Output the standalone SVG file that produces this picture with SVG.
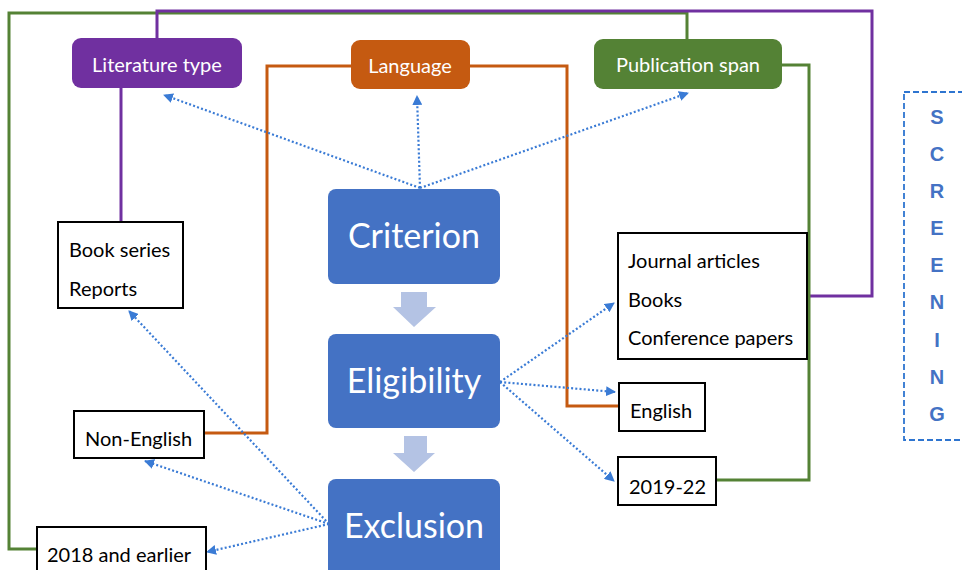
<svg xmlns="http://www.w3.org/2000/svg" width="962" height="570" viewBox="0 0 962 570">
  <defs>
    <marker id="tip" viewBox="0 0 10 10" refX="9" refY="5" markerWidth="10" markerHeight="10" markerUnits="userSpaceOnUse" orient="auto">
      <path d="M0,0 L10,5 L0,10 z" fill="#3A7BD5"/>
    </marker>
    <style>
      text { font-family: Lato, "Open Sans", "Liberation Sans", sans-serif; }
      .head { fill: #ffffff; font-size: 20px; text-anchor: middle; }
      .stage { fill: #ffffff; font-size: 34px; text-anchor: middle; }
      .item { fill: #000000; font-size: 20px; }
      .box { fill: #ffffff; stroke: #000000; stroke-width: 2; }
      .stagebox { fill: #4472C4; }
      .flow { fill: #B4C3E4; }
      .wire { fill: none; stroke-width: 3; }
      .dot { fill: none; stroke: #3A7BD5; stroke-width: 2.2; stroke-dasharray: 2 2.2; marker-end: url(#tip); }
      text.scr { fill: #4472C4; font-family: "Liberation Sans", "DejaVu Sans", sans-serif; font-size: 20px; font-weight: 700; text-anchor: middle; }
    </style>
  </defs>
  <rect width="962" height="570" fill="#ffffff"/>

  <!-- coloured bracket wires linking each criterion to its outcomes -->
  <g id="connectors">
    <polyline class="wire" stroke="#548235" points="687,40 687,13 9,13 9,549 37,549"/>
    <polyline class="wire" stroke="#7030A0" points="157,38 157,11 872,11 872,296 808,296"/>
    <line class="wire" stroke="#7030A0" x1="121" y1="88" x2="121" y2="222"/>
    <polyline class="wire" stroke="#C55A11" points="351,66 267,66 267,433 204,433"/>
    <polyline class="wire" stroke="#C55A11" points="470,66 567,66 567,406 619,406"/>
    <polyline class="wire" stroke="#548235" points="782,65 809,65 809,480 716,480"/>

    <!-- dotted pointers -->
    <line class="dot" x1="420" y1="188" x2="164" y2="95"/>
    <line class="dot" x1="420" y1="188" x2="417" y2="96"/>
    <line class="dot" x1="420" y1="188" x2="688" y2="93"/>
    <line class="dot" x1="500" y1="382" x2="614" y2="303"/>
    <line class="dot" x1="500" y1="382" x2="615" y2="392"/>
    <line class="dot" x1="500" y1="382" x2="614" y2="481"/>
    <line class="dot" x1="329" y1="524" x2="129" y2="311"/>
    <line class="dot" x1="329" y1="524" x2="145" y2="461"/>
    <line class="dot" x1="329" y1="524" x2="207" y2="552"/>

    <!-- block arrows between stages -->
    <path class="flow" d="M401,292 H427 V307 H436 L414,327 L393,307 H401 Z"/>
    <path class="flow" d="M404,436 H427 V453 H435 L414,472 L393,453 H404 Z"/>
  </g>

  <!-- criterion headers -->
  <g id="literature-type">
    <rect x="72" y="38" width="170" height="50" rx="9" fill="#7030A0"/>
    <text class="head" x="157" y="72">Literature type</text>
  </g>
  <g id="language">
    <rect x="351" y="40" width="119" height="49" rx="9" fill="#C55A11"/>
    <text class="head" x="410" y="73">Language</text>
  </g>
  <g id="publication-span">
    <rect x="594" y="39" width="188" height="50" rx="9" fill="#548235"/>
    <text class="head" x="688" y="72">Publication span</text>
  </g>

  <!-- stages -->
  <g id="criterion">
    <rect class="stagebox" x="328" y="189" width="172" height="95" rx="8"/>
    <text class="stage" x="414" y="248">Criterion</text>
  </g>
  <g id="eligibility">
    <rect class="stagebox" x="328" y="334" width="172" height="94" rx="8"/>
    <text class="stage" x="414" y="393">Eligibility</text>
  </g>
  <g id="exclusion">
    <rect class="stagebox" x="328" y="479" width="172" height="100" rx="8"/>
    <text class="stage" x="414" y="538">Exclusion</text>
  </g>

  <!-- outcome boxes -->
  <g id="book-series">
    <rect class="box" x="58" y="222" width="125" height="86"/>
    <text class="item" x="69" y="257">Book series</text>
    <text class="item" x="69" y="296">Reports</text>
  </g>
  <g id="non-english">
    <rect class="box" x="74" y="411" width="130" height="47"/>
    <text class="item" x="85" y="446">Non-English</text>
  </g>
  <g id="earlier">
    <rect class="box" x="37" y="527" width="169" height="50"/>
    <text class="item" x="47" y="562">2018 and earlier</text>
  </g>
  <g id="journal-articles">
    <rect class="box" x="618" y="233" width="189" height="126"/>
    <text class="item" x="628" y="268">Journal articles</text>
    <text class="item" x="628" y="307">Books</text>
    <text class="item" x="628" y="345">Conference papers</text>
  </g>
  <g id="english">
    <rect class="box" x="619" y="383" width="86" height="48"/>
    <text class="item" x="630" y="418">English</text>
  </g>
  <g id="span-2019">
    <rect class="box" x="618" y="457" width="98" height="48"/>
    <text class="item" x="629" y="494">2019-22</text>
  </g>

  <!-- screening label -->
  <g id="screening">
    <rect x="904" y="92" width="70" height="348" fill="none" stroke="#2E75D0" stroke-width="1.8" stroke-dasharray="6 3"/>
    <text class="scr" x="937" y="124">S</text>
    <text class="scr" x="937" y="161">C</text>
    <text class="scr" x="937" y="198">R</text>
    <text class="scr" x="937" y="235">E</text>
    <text class="scr" x="937" y="272">E</text>
    <text class="scr" x="937" y="309">N</text>
    <text class="scr" x="937" y="347">I</text>
    <text class="scr" x="937" y="384">N</text>
    <text class="scr" x="937" y="421">G</text>
  </g>
</svg>
